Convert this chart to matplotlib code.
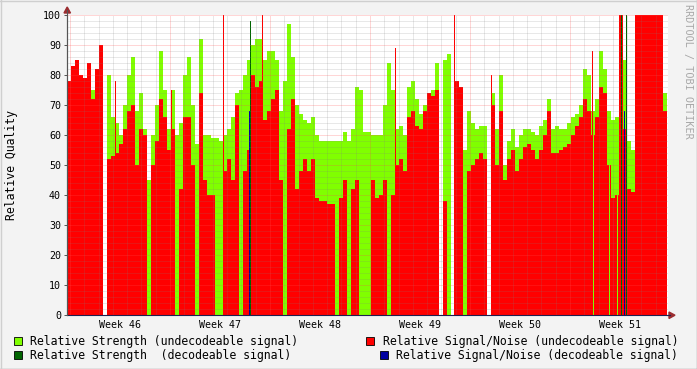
# coding: utf-8
import numpy as np
import matplotlib
matplotlib.use("Agg")
import matplotlib.pyplot as plt
from matplotlib.patches import Rectangle, Polygon
from matplotlib.lines import Line2D

# relative signal/noise (undecodeable), one value per 6.72 h slot
snr = [78, 83, 85, 80, 79, 84, 72, 82, 90, 0,
       52, 53, 54, 57, 62, 68, 70, 50, 62, 60,
       0, 50, 58, 72, 66, 55, 62, 0, 42, 66,
       66, 50, 0, 74, 45, 40, 40, 0, 0, 48,
       52, 45, 70, 0, 48, 55, 80, 76, 78, 65,
       68, 72, 75, 45, 0, 62, 72, 42, 48, 52,
       48, 52, 39, 38, 38, 37, 37, 0, 39, 45,
       0, 42, 45, 0, 0, 0, 45, 39, 40, 45,
       0, 40, 50, 52, 48, 66, 68, 63, 62, 68,
       74, 73, 75, 0, 38, 0, 0, 78, 76, 0,
       48, 50, 52, 54, 52, 0, 70, 50, 68, 45,
       52, 55, 48, 52, 56, 57, 55, 52, 55, 60,
       68, 54, 54, 55, 56, 57, 60, 63, 66, 72,
       68, 60, 66, 76, 74, 50, 39, 40, 100, 62,
       42, 41, 100, 100, 100, 100, 100, 100, 100, 68]

# relative strength (undecodeable)
strength = [75, 78, 80, 76, 75, 80, 75, 78, 85, 0,
            80, 66, 64, 60, 70, 80, 86, 68, 74, 62,
            45, 60, 70, 88, 75, 62, 75, 60, 64, 80,
            86, 70, 57, 92, 60, 60, 59, 59, 58, 60,
            62, 66, 74, 75, 80, 85, 90, 92, 92, 85,
            88, 88, 85, 68, 78, 97, 86, 70, 67, 65,
            64, 66, 60, 58, 58, 58, 58, 58, 58, 61,
            58, 62, 76, 75, 61, 61, 60, 60, 60, 70,
            84, 75, 62, 63, 60, 76, 78, 72, 67, 70,
            72, 75, 84, 0, 85, 87, 0, 70, 70, 55,
            68, 64, 62, 63, 63, 0, 74, 62, 80, 50,
            58, 62, 56, 60, 62, 62, 61, 60, 63, 65,
            72, 62, 63, 62, 62, 64, 66, 67, 70, 82,
            80, 68, 72, 88, 82, 68, 65, 66, 100, 85,
            58, 55, 90, 90, 90, 90, 90, 90, 90, 74]

# short single-sample readings (days from start)
spike_t = [3.36, 7.28, 10.92, 13.65, 22.96, 27.09, 29.68, 36.75]
spike_snr = [78, 75, 100, 100, 89, 100, 80, 88]
gap_t = [36.82, 37.94, 38.5]
gap_strength = [68, 64, 66]
dec_t_strength = [12.81, 38.78, 39.13]
dec_strength = [98, 100, 100]
dec_t_snr = [12.74, 38.99]
dec_snr = [68, 68]

weeks = ['Week 46', 'Week 47', 'Week 48', 'Week 49', 'Week 50', 'Week 51']

W, H = 697, 369
step = 0.28
fig = plt.figure(figsize=(W / 100, H / 100), dpi=100)
fig.patch.set_facecolor('#F3F3F3')
ax = fig.add_axes([67 / W, 1 - 315 / H, 601 / W, 300 / H])
ax.set_facecolor('white')

mono = 'DejaVu Sans Mono'
lgreen, dgreen, red, blue = '#80FF00', '#006400', '#FF0000', '#0000A0'

t = np.arange(len(snr)) * step
ax.bar(t, strength, width=step, align='edge', color=lgreen, linewidth=0, antialiased=False, zorder=2)
ax.bar(t, snr, width=step, align='edge', color=red, linewidth=0, antialiased=False, zorder=2)
ax.bar(spike_t, spike_snr, width=0.07, align='edge', color=red, linewidth=0, antialiased=False, zorder=2)
ax.bar(gap_t, gap_strength, width=0.07, align='edge', color=lgreen, linewidth=0, antialiased=False, zorder=2)
ax.bar(dec_t_strength, dec_strength, width=0.07, align='edge', color=dgreen, linewidth=0, antialiased=False, zorder=2)
ax.bar(dec_t_snr, dec_snr, width=0.1, align='edge', color=blue, linewidth=0, antialiased=False, zorder=2)

ax.set_xlim(0, 601 * 0.07)
ax.set_ylim(0, 100)

# grid on top of the data, like rrdtool
dot = (0, (1, 1))
for y in range(2, 101, 2):
    if y % 10:
        ax.axhline(y, color=(0.5, 0.5, 0.5, 0.35), lw=0.72, ls=dot, zorder=3)
    else:
        ax.axhline(y, color=(1, 0.3, 0.3, 0.45), lw=0.72, ls=dot, zorder=3)
for d in np.arange(0.21, 42, 1.0):
    if round(d - 0.21) % 7:
        ax.axvline(d, color=(0.5, 0.5, 0.5, 0.35), lw=0.72, ls=dot, zorder=3)
    else:
        ax.axvline(d, color=(1, 0.3, 0.3, 0.45), lw=0.72, ls=dot, zorder=3)

ax.set_yticks(range(0, 101, 10))
ax.set_yticklabels([str(v) for v in range(0, 101, 10)], fontsize=7.2, family=mono)
ax.tick_params(axis='y', length=2.2, width=0.7, pad=2.2, color='#555555')
ax.set_xticks([0.21 + 3.5 + 7 * k for k in range(6)])
ax.set_xticklabels(weeks, fontsize=7.2, family=mono)
ax.tick_params(axis='x', length=0, pad=3.5)

for s in ['top', 'right']:
    ax.spines[s].set_visible(False)
ax.spines['left'].set_color('#555555')
ax.spines['bottom'].set_color('#202050')
ax.spines['left'].set_linewidth(0.8)
ax.spines['bottom'].set_linewidth(0.8)

fx = lambda p: p / W
fy = lambda p: 1 - p / H
# axis arrows
fig.add_artist(Line2D([fx(67), fx(67)], [fy(315), fy(10)], color='#555555', lw=0.8))
fig.add_artist(Line2D([fx(667), fx(670)], [fy(315), fy(315)], color='#202050', lw=0.8))
fig.add_artist(Polygon([[fx(64), fy(13)], [fx(70.5), fy(13)], [fx(67.2), fy(7)]], closed=True,
                       color='#9B2D30', transform=fig.transFigure))
fig.add_artist(Polygon([[fx(669), fy(312)], [fx(669), fy(318.5)], [fx(675), fy(315.2)]], closed=True,
                       color='#9B2D30', transform=fig.transFigure))

fig.text(fx(12), fy(165), 'Relative Quality', rotation=90, ha='center', va='center',
         fontsize=8.3, family=mono)
fig.text(fx(688), fy(4), 'RRDTOOL / TOBI OETIKER', rotation=-90, ha='center', va='top',
         fontsize=7.3, family=mono, color='#A8A8A8')

# legend
def box(x, y, c):
    fig.add_artist(Rectangle((fx(x), fy(y + 4)), 8 / W, 8 / H, facecolor=c, edgecolor='black',
                             lw=0.6, transform=fig.transFigure))

box(14, 341, lgreen)
fig.text(fx(30), fy(341), 'Relative Strength (undecodeable signal)', fontsize=8.3, family=mono, va='center')
box(14, 355, dgreen)
fig.text(fx(30), fy(355), 'Relative Strength  (decodeable signal)', fontsize=8.3, family=mono, va='center')
box(366, 341, red)
fig.text(fx(383), fy(341), 'Relative Signal/Noise (undecodeable signal)', fontsize=8.3, family=mono, va='center')
box(380, 355, blue)
fig.text(fx(396), fy(355), 'Relative Signal/Noise (decodeable signal)', fontsize=8.3, family=mono, va='center')

# frame
fig.add_artist(Line2D([0, 1], [fy(368.5), fy(368.5)], color='#9A9A9A', lw=1))
fig.add_artist(Line2D([fx(696.5), fx(696.5)], [0, 1], color='#9A9A9A', lw=1))
fig.add_artist(Line2D([0, 1], [fy(0.5), fy(0.5)], color='#CFCFCF', lw=1))
fig.add_artist(Line2D([fx(0.5), fx(0.5)], [0, 1], color='#CFCFCF', lw=1))

fig.savefig('out.png', dpi=100, facecolor=fig.get_facecolor())
